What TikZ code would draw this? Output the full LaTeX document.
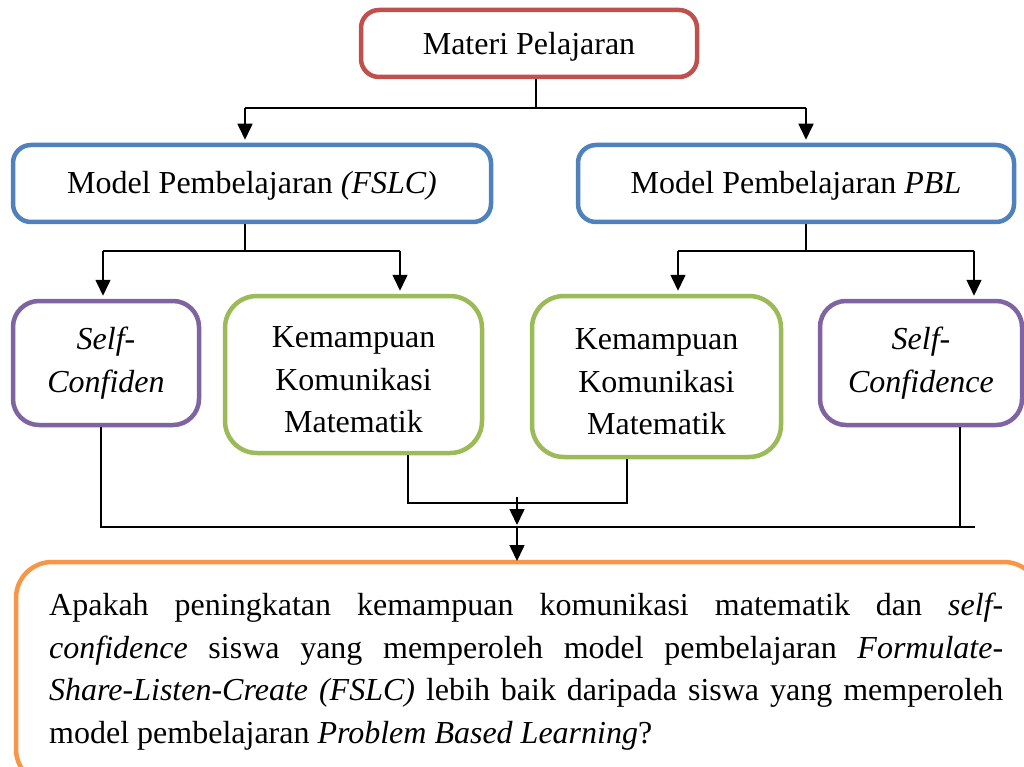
\documentclass[tikz,border=0pt]{standalone}
\usepackage{fontspec}
\setmainfont{Liberation Serif}
\usetikzlibrary{arrows.meta,calc}
\definecolor{cred}{HTML}{C0504D}
\definecolor{cblue}{HTML}{4F81BD}
\definecolor{cpurple}{HTML}{8064A2}
\definecolor{cgreen}{HTML}{9BBB59}
\definecolor{corange}{HTML}{F79646}
\begin{document}
\begin{tikzpicture}[x=1pt,y=-1pt,
  txt/.style={font=\fontsize{32}{42.5}\selectfont},
  box/.style={txt,draw,line width=4.5pt,fill=white,align=center,inner sep=0pt},
  conn/.style={line width=1.6pt,black},
  arr/.style={conn,-{Triangle[width=15pt,length=16pt]}}]
\clip (0,0) rectangle (1024,767);
\fill[white] (0,0) rectangle (1024,767);
% nodes
\node[box,draw=cred,rounded corners=18pt,minimum width=336pt,minimum height=67pt] (mat) at (529,43.5) {\rule{0pt}{28pt}Materi Pelajaran};
\node[box,draw=cblue,rounded corners=18pt,minimum width=478pt,minimum height=77pt] (fslc) at (252,183.5) {\rule{0pt}{26pt}Model Pembelajaran \textit{(FSLC)}};
\node[box,draw=cblue,rounded corners=18pt,minimum width=436pt,minimum height=77pt] (pbl) at (796,183.5) {\rule{0pt}{26pt}Model Pembelajaran \textit{PBL}};
\node[box,draw=cpurple,rounded corners=26pt,minimum width=186pt,minimum height=124pt] (self1) at (106,363) {\textit{Self-}\\\textit{Confiden}};
\node[box,draw=cgreen,rounded corners=32pt,minimum width=257pt,minimum height=157pt] (kem1) at (353.5,374.5) {\rule{0pt}{32pt}Kemampuan\\Komunikasi\\Matematik};
\node[box,draw=cgreen,rounded corners=32pt,minimum width=249pt,minimum height=161pt] (kem2) at (656.5,376.5) {\rule{0pt}{32pt}Kemampuan\\Komunikasi\\Matematik};
\node[box,draw=cpurple,rounded corners=26pt,minimum width=202pt,minimum height=124pt] (self2) at (921,363) {\textit{Self-}\\\textit{Confidence}};
\draw[draw=corange,line width=4.5pt,rounded corners=36pt] (16,562) rectangle (1040,785);
\node[txt,anchor=north west,inner sep=0pt,text width=954pt,align=justify] (q) at (49,593)
 {\tolerance=10000\hyphenpenalty=10000 Apakah peningkatan kemampuan komunikasi matematik dan \textit{self-}\linebreak
 \textit{confidence} siswa yang memperoleh model pembelajaran \textit{Formulate-}\linebreak
 \textit{Share-Listen-Create (FSLC)} lebih baik daripada siswa yang memperoleh\linebreak
 model pembelajaran \textit{Problem Based Learning}?};
\coordinate (qtop) at (517,562);
% top level connectors
\coordinate (jm) at (536,108);
\coordinate (t1) at (245,108);
\coordinate (t2) at (806,108);
\draw[conn] (mat.south -| jm) -- (jm);
\draw[conn] (t1) -- (t2);
\draw[arr] (t1) -- ($(t1 |- fslc.north)+(0,-3)$);
\draw[arr] (t2) -- ($(t2 |- pbl.north)+(0,-3)$);
% FSLC connectors
\coordinate (f0) at (245,251);
\coordinate (f1) at (103,251);
\coordinate (f2) at (400,251);
\draw[conn] (fslc.south -| f0) -- (f0);
\draw[conn] (f1) -- (f2);
\draw[arr] (f1) -- ($(f1 |- self1.north)+(0,-3)$);
\draw[arr] (f2) -- ($(f2 |- kem1.north)+(0,-3)$);
% PBL connectors
\coordinate (p0) at (806,251);
\coordinate (p1) at (678,251);
\coordinate (p2) at (974,251);
\draw[conn] (pbl.south -| p0) -- (p0);
\draw[conn] (p1) -- (p2);
\draw[arr] (p1) -- ($(p1 |- kem2.north)+(0,-3)$);
\draw[arr] (p2) -- ($(p2 |- self2.north)+(0,-3)$);
% bottom connectors
\coordinate (b1) at (101,527);
\coordinate (b2) at (975,527);
\coordinate (b3) at (960,527);
\coordinate (k1) at (408,503);
\coordinate (k2) at (627,503);
\coordinate (km) at (517,497);
\coordinate (bm) at (517,527);
\draw[conn] (self1.south -| b1) -- (b1) -- (b2);
\draw[conn] (self2.south -| b3) -- (b3);
\draw[conn] (kem1.south -| k1) -- (k1) -- (k2) -- (kem2.south -| k2);
\draw[arr] (km) -- ($(bm)+(0,-2)$);
\draw[arr] (bm) -- ($(qtop)+(0,-1)$);
\end{tikzpicture}
\end{document}
